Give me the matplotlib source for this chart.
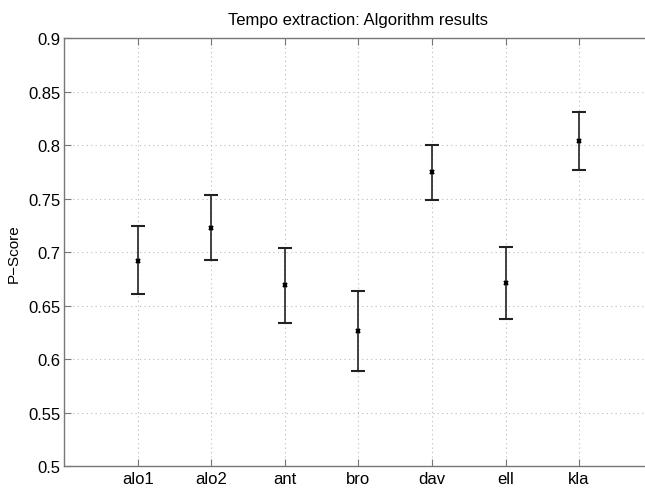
import matplotlib
matplotlib.use("Agg")
import matplotlib.pyplot as plt
import numpy as np

plt.rcParams['font.family'] = ['Liberation Sans', 'DejaVu Sans']

# algorithm names and P-score (mean with lower / upper bounds)
algorithms = ['alo1', 'alo2', 'ant', 'bro', 'dav', 'ell', 'kla']
p_score = [0.692, 0.723, 0.669, 0.626, 0.775, 0.671, 0.804]
p_low = [0.661, 0.693, 0.634, 0.589, 0.749, 0.638, 0.777]
p_high = [0.724, 0.753, 0.704, 0.664, 0.800, 0.705, 0.831]

x = np.arange(1, len(algorithms) + 1)
mean = np.array(p_score)
err = [mean - np.array(p_low), np.array(p_high) - mean]

fig = plt.figure(figsize=(6.45, 4.89), dpi=100)
ax = fig.add_axes([0.0997, 0.0444, 0.9121, 0.8758])

ax.errorbar(x, mean, yerr=err, fmt='x', color='black', ecolor='#222222',
            elinewidth=1.2, capsize=5, capthick=1.2, markersize=3.5, mew=1.5)

ax.set_xlim(0, 8)
ax.set_ylim(0.5, 0.9)
ax.set_xticks(x)
ax.set_xticklabels(algorithms)
ax.set_yticks(np.arange(0.5, 0.901, 0.05))
ax.set_yticklabels(['0.5', '0.55', '0.6', '0.65', '0.7', '0.75', '0.8', '0.85', '0.9'])

ax.grid(True, linestyle=(0, (1, 3)), color='#bbbbbb', linewidth=0.8)
ax.tick_params(direction='in', top=True, right=True, length=5, color='#777777')
ax.tick_params(axis='x', labelsize=12, pad=3.5)
ax.tick_params(axis='y', labelsize=12, pad=3)
for s in ax.spines.values():
    s.set_color('#777777')
    s.set_linewidth(1.0)

ax.set_ylabel('P\u2212Score', fontsize=11, labelpad=5)
ax.set_title('Tempo extraction: Algorithm results', fontsize=12, pad=10)

fig.savefig('out.png', dpi=100)
